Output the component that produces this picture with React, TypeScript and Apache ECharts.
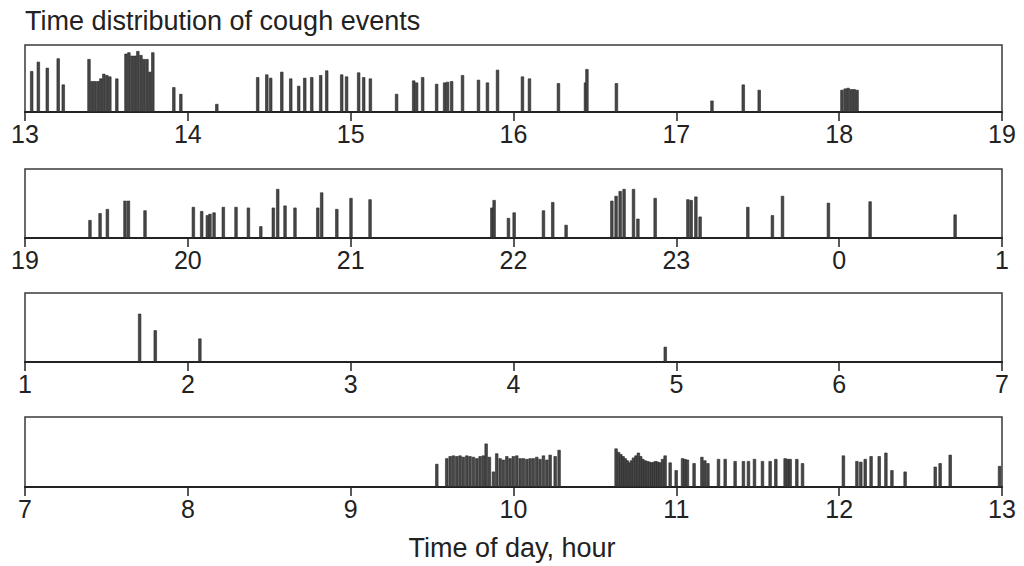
import React, { useEffect, useRef } from "react";
import * as echarts from "echarts";

// Panel 1: 13–19 h
const hours1 = [13.041, 13.082, 13.137, 13.204, 13.235, 13.393, 13.411, 13.429, 13.448, 13.466, 13.484, 13.503, 13.521, 13.564, 13.62, 13.638, 13.657, 13.675, 13.693, 13.712, 13.73, 13.749, 13.767, 13.785, 13.914, 13.957, 14.178, 14.429, 14.485, 14.509, 14.577, 14.632, 14.681, 14.718, 14.761, 14.816, 14.853, 14.945, 14.975, 15.049, 15.08, 15.121, 15.282, 15.387, 15.405, 15.442, 15.528, 15.577, 15.595, 15.62, 15.687, 15.785, 15.84, 15.902, 16.055, 16.098, 16.276, 16.442, 16.451, 16.632, 17.219, 17.411, 17.509, 18.017, 18.037, 18.055, 18.074, 18.092, 18.11];
const counts1 = [61, 75, 66, 80, 41, 79, 46, 46, 46, 50, 57, 55, 53, 50, 87, 89, 84, 84, 91, 85, 79, 79, 60, 89, 37, 27, 12, 52, 56, 51, 60, 50, 39, 51, 52, 55, 62, 56, 53, 59, 52, 50, 27, 47, 44, 52, 42, 44, 45, 46, 55, 48, 44, 63, 53, 50, 43, 44, 64, 43, 17, 41, 33, 33, 35, 36, 34, 34, 33];

// Panel 2: 19–1 h (values past 24 are after midnight)
const hours2 = [19.399, 19.461, 19.506, 19.614, 19.635, 19.737, 20.034, 20.085, 20.12, 20.136, 20.161, 20.218, 20.296, 20.372, 20.448, 20.525, 20.552, 20.597, 20.658, 20.798, 20.822, 20.915, 21.002, 21.119, 21.867, 21.881, 21.969, 22.004, 22.184, 22.241, 22.323, 22.604, 22.63, 22.655, 22.679, 22.737, 22.764, 22.87, 23.071, 23.091, 23.12, 23.146, 23.439, 23.59, 23.652, 23.934, 24.19, 24.712];
const counts2 = [26, 36, 42, 54, 54, 40, 45, 39, 33, 35, 37, 45, 45, 44, 17, 44, 71, 47, 44, 44, 66, 42, 58, 56, 44, 55, 29, 37, 40, 52, 19, 54, 61, 68, 71, 71, 28, 58, 56, 55, 60, 31, 45, 33, 61, 51, 53, 34];

// Panel 3: 1–7 h
const hours3 = [1.704, 1.8, 2.074, 4.932];
const counts3 = [70, 46, 34, 22];

// Panel 4: 7–13 h
const hours4 = [9.529, 9.59, 9.611, 9.631, 9.652, 9.672, 9.692, 9.713, 9.733, 9.754, 9.775, 9.795, 9.815, 9.832, 9.852, 9.877, 9.897, 9.918, 9.938, 9.959, 9.979, 9.999, 10.02, 10.041, 10.061, 10.082, 10.102, 10.122, 10.143, 10.163, 10.184, 10.205, 10.225, 10.256, 10.28, 10.63, 10.645, 10.659, 10.673, 10.686, 10.699, 10.712, 10.725, 10.737, 10.752, 10.767, 10.781, 10.794, 10.808, 10.822, 10.836, 10.85, 10.862, 10.874, 10.887, 10.9, 10.915, 10.931, 10.962, 10.999, 11.038, 11.053, 11.068, 11.109, 11.157, 11.175, 11.194, 11.259, 11.3, 11.361, 11.412, 11.443, 11.48, 11.529, 11.576, 11.611, 11.668, 11.684, 11.699, 11.74, 11.775, 12.026, 12.109, 12.133, 12.16, 12.196, 12.246, 12.287, 12.324, 12.405, 12.59, 12.62, 12.682, 12.985];
const counts4 = [33, 41, 44, 45, 44, 45, 43, 45, 44, 43, 41, 44, 45, 62, 43, 22, 48, 41, 39, 44, 41, 44, 45, 41, 41, 40, 41, 41, 43, 40, 45, 39, 46, 44, 53, 55, 50, 47, 44, 41, 38, 35, 38, 42, 45, 49, 44, 40, 38, 37, 36, 35, 36, 37, 36, 35, 40, 45, 35, 24, 41, 40, 39, 34, 43, 38, 34, 40, 40, 37, 37, 37, 40, 37, 37, 40, 41, 40, 40, 40, 34, 45, 37, 36, 40, 44, 44, 49, 24, 22, 29, 34, 46, 30];

const panelStarts = [13, 19, 1, 7];
const panels = [
  { hours: hours1, counts: counts1 },
  { hours: hours2, counts: counts2 },
  { hours: hours3, counts: counts3 },
  { hours: hours4, counts: counts4 },
];

const titleText = "Time distribution of cough events";
const xAxisTitle = "Time of day, hour";

const FONT = "'Liberation Sans', Arial, Helvetica, sans-serif";
const panelTops = [45, 169, 293, 417];
const panelHeights = [67, 69, 69, 70];

export default function App() {
  const ref = useRef<HTMLDivElement>(null);
  useEffect(() => {
    if (!ref.current) return;
    const chart = echarts.init(ref.current, undefined, { renderer: "svg" });
    const grids = panelTops.map((top, i) => ({
      left: 25,
      right: 22,
      top,
      height: panelHeights[i],
      show: true,
      borderColor: "#3a3a3a",
      borderWidth: 1.5,
      containLabel: false,
    }));
    const xAxes = panelStarts.map((start, i) => ({
      type: "value" as const,
      gridIndex: i,
      min: start,
      max: start + 6,
      interval: 1,
      axisLine: { show: true, onZero: false, lineStyle: { color: "#222", width: 2 } },
      axisTick: { show: true, length: 9, lineStyle: { color: "#222", width: 1.5 } },
      axisLabel: {
        show: true,
        margin: 9,
        fontSize: 25,
        color: "#222",
        fontFamily: FONT,
        showMinLabel: true,
        showMaxLabel: true,
        formatter: (v: number) => String(Math.round(v) % 24),
      },
      splitLine: { show: false },
    }));
    const yAxes = panelStarts.map((_, i) => ({
      type: "value" as const,
      gridIndex: i,
      min: 0,
      max: 100,
      show: false,
      splitLine: { show: false },
    }));
    const series = panels.map((p, i) => ({
      type: "bar" as const,
      xAxisIndex: i,
      yAxisIndex: i,
      barWidth: 3.2,
      itemStyle: { color: "#474747", borderColor: "#262626", borderWidth: 0.6 },
      data: p.hours.map((h, j) => [h, p.counts[j]]),
    }));
    chart.setOption({
      animation: false,
      backgroundColor: "#ffffff",
      title: {
        text: titleText,
        left: 20,
        top: 2,
        textStyle: { fontSize: 27, fontWeight: "normal", color: "#222", fontFamily: FONT },
      },
      grid: grids,
      xAxis: xAxes,
      yAxis: yAxes,
      series,
      graphic: [
        {
          type: "text",
          left: "center",
          top: 534,
          style: { text: xAxisTitle, fontSize: 27, fill: "#222", fontFamily: FONT },
        },
      ],
    });
    return () => chart.dispose();
  }, []);
  return (
    <div
      ref={ref}
      style={{ position: "fixed", left: 0, top: 0, width: 1024, height: 566, background: "#fff" }}
    />
  );
}
